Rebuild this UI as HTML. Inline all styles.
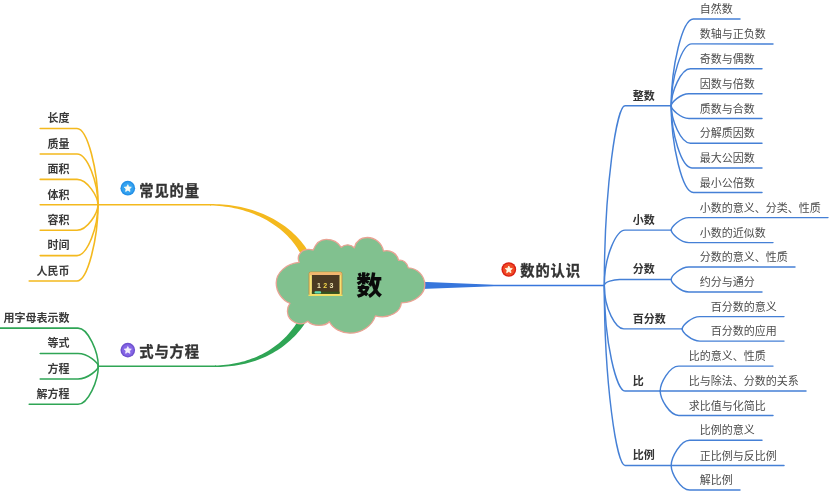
<!DOCTYPE html>
<html lang="zh-CN">
<head>
<meta charset="utf-8">
<title>数 思维导图</title>
<style>
html,body{margin:0;padding:0;background:#fff;}
body{width:834px;height:500px;overflow:hidden;}
svg{display:block;will-change:transform;}
svg text{font-family:"Liberation Sans","Noto Sans CJK SC",sans-serif;}
</style>
</head>
<body>
<svg width="834" height="500" viewBox="0 0 834 500">
<rect width="834" height="500" fill="#ffffff"/>
<path d="M210.00,205.55 L213.15,205.61 L216.28,205.76 L219.38,205.98 L222.45,206.28 L225.50,206.65 L228.51,207.09 L231.49,207.60 L234.44,208.18 L237.35,208.83 L240.22,209.54 L243.05,210.32 L245.85,211.17 L248.60,212.07 L251.31,213.04 L253.97,214.07 L256.59,215.16 L259.16,216.31 L261.68,217.52 L264.15,218.78 L266.57,220.10 L268.93,221.47 L271.24,222.90 L273.50,224.38 L275.70,225.91 L277.83,227.49 L279.91,229.12 L281.92,230.79 L283.88,232.52 L285.76,234.29 L287.59,236.10 L289.34,237.96 L291.03,239.86 L292.65,241.80 L294.20,243.78 L295.67,245.80 L297.08,247.86 L298.41,249.95 L299.68,252.06 L300.95,254.18 L302.15,256.33 L308.77,252.79 L307.44,250.42 L306.05,248.09 L304.51,245.86 L302.88,243.69 L301.17,241.57 L299.40,239.50 L297.57,237.49 L295.67,235.54 L293.71,233.64 L291.69,231.79 L289.61,230.00 L287.47,228.26 L285.28,226.58 L283.03,224.96 L280.73,223.40 L278.38,221.89 L275.98,220.44 L273.52,219.05 L271.03,217.71 L268.48,216.44 L265.89,215.22 L263.26,214.07 L260.59,212.97 L257.87,211.94 L255.12,210.97 L252.33,210.06 L249.50,209.21 L246.64,208.43 L243.74,207.70 L240.81,207.05 L237.85,206.45 L234.86,205.92 L231.84,205.46 L228.79,205.06 L225.72,204.73 L222.62,204.46 L219.50,204.26 L216.35,204.13 L213.19,204.06 L210.00,204.05 Z" fill="#f4b91e"/>
<path d="M98.0,204.8 L211,204.8" stroke="#f4b91e" stroke-width="1.45" fill="none"/>
<path d="M215.00,366.95 L217.80,366.94 L220.58,366.89 L223.36,366.77 L226.13,366.60 L228.89,366.37 L231.63,366.07 L234.36,365.72 L237.08,365.31 L239.78,364.83 L242.46,364.29 L245.13,363.69 L247.77,363.03 L250.39,362.31 L252.99,361.52 L255.57,360.68 L258.12,359.76 L260.64,358.79 L263.14,357.75 L265.61,356.65 L268.04,355.48 L270.45,354.25 L272.82,352.96 L275.15,351.60 L277.45,350.17 L279.72,348.68 L281.94,347.13 L284.12,345.51 L286.26,343.82 L288.35,342.07 L290.40,340.25 L292.41,338.36 L294.36,336.41 L296.26,334.39 L298.12,332.31 L299.91,330.15 L301.66,327.93 L303.34,325.65 L304.95,323.28 L306.43,320.81 L307.84,318.28 L301.50,314.86 L300.19,317.20 L298.83,319.49 L297.46,321.75 L296.06,323.97 L294.59,326.14 L293.07,328.25 L291.48,330.31 L289.84,332.31 L288.15,334.26 L286.40,336.15 L284.60,337.99 L282.74,339.77 L280.83,341.49 L278.88,343.16 L276.87,344.77 L274.82,346.32 L272.72,347.82 L270.58,349.26 L268.39,350.63 L266.16,351.95 L263.89,353.22 L261.59,354.42 L259.24,355.56 L256.86,356.64 L254.44,357.66 L251.99,358.62 L249.51,359.52 L246.99,360.36 L244.45,361.13 L241.88,361.85 L239.28,362.50 L236.66,363.09 L234.02,363.61 L231.35,364.07 L228.67,364.47 L225.97,364.80 L223.24,365.06 L220.51,365.26 L217.76,365.39 L215.00,365.45 Z" fill="#2fa555"/>
<path d="M98.3,366.2 L216,366.2" stroke="#2fa555" stroke-width="1.45" fill="none"/>
<path d="M421,281.7 L494,284.65 L604.3,284.65 L604.3,286.15 L494,286.15 L421,289.0 Z" fill="#3776dc"/>
<g fill="none" stroke="#4580d6" stroke-width="1.45" stroke-linecap="round">
<path d="M604.3,285.4 C604.3,186.6 616.7,105.8 625.0,105.8 L671.1999999999999,105.8"/>
<path d="M671.2,105.8 C671.2,66.7 682.3,19.0 693.4,19.0 L740.0,19.0"/>
<path d="M671.2,105.8 C671.2,77.9 681.6,43.9 691.9,43.9 L773.0,43.9"/>
<path d="M671.2,105.8 C671.2,92.1 680.8,68.8 690.4,68.8 L762.0,68.8"/>
<path d="M671.2,105.8 C671.2,102.8 680.1,93.7 688.9,93.7 L762.0,93.7"/>
<path d="M671.2,105.8 C671.2,109.0 680.1,118.4 689.0,118.4 L762.0,118.4"/>
<path d="M671.2,105.8 C671.2,119.7 680.8,143.2 690.4,143.2 L762.0,143.2"/>
<path d="M671.2,105.8 C671.2,133.7 681.6,167.9 691.9,167.9 L762.0,167.9"/>
<path d="M671.2,105.8 C671.2,144.8 682.3,192.5 693.4,192.5 L762.0,192.5"/>
<path d="M604.3,285.4 C604.3,255.0 616.7,230.1 625.0,230.1 L671.1999999999999,230.1"/>
<path d="M671.2,230.1 C671.2,227.0 680.1,217.6 688.9,217.6 L828.0,217.6"/>
<path d="M671.2,230.1 C671.2,233.2 680.1,242.6 688.9,242.6 L773.0,242.6"/>
<path d="M604.3,285.4 C604.3,282.1 613.5,279.45 619.6545,279.45 L671.1999999999999,279.45"/>
<path d="M671.2,279.4 C671.2,276.3 680.1,267.0 688.9,267.0 L795.0,267.0"/>
<path d="M671.2,279.4 C671.2,282.6 680.1,291.9 688.9,291.9 L762.0,291.9"/>
<path d="M604.3,285.4 C604.3,309.3 616.0,328.85 623.7795,328.85 L682.1999999999999,328.85"/>
<path d="M682.2,328.9 C682.2,325.8 691.1,316.6 699.9,316.6 L784.0,316.6"/>
<path d="M682.2,328.9 C682.2,331.9 691.1,341.1 699.9,341.1 L784.0,341.1"/>
<path d="M604.3,285.4 C604.3,343.5 616.7,391.0 625.0,391.0 L660.1999999999999,391.0"/>
<path d="M660.2,391.0 C660.2,383.3 669.4,366.1 678.7,366.1 L773.0,366.1"/>
<path d="M660.2,391.0 L677.2,391.0 L806.0,391.0"/>
<path d="M660.2,391.0 C660.2,398.5 669.4,415.4 678.7,415.4 L773.0,415.4"/>
<path d="M604.3,285.4 C604.3,384.4 616.7,465.4 625.0,465.4 L671.1999999999999,465.4"/>
<path d="M671.2,465.4 C671.2,457.6 680.5,440.2 689.7,440.2 L762.0,440.2"/>
<path d="M671.2,465.4 L688.2,465.4 L784.0,465.4"/>
<path d="M671.2,465.4 C671.2,473.0 680.4,490.0 689.7,490.0 L740.0,490.0"/>
</g>
<g fill="none" stroke="#f4b91e" stroke-width="1.6" stroke-linecap="round">
<path d="M98.0,204.8 C98.0,170.5 87.5,128.5 77.0,128.5 L40.2,128.5"/>
<path d="M98.0,204.8 C98.0,182.5 87.5,154.0 77.0,154.0 L40.2,154.0"/>
<path d="M98.0,204.8 C98.0,196.9 87.5,179.4 77.0,179.4 L40.2,179.4"/>
<path d="M98.0,204.8 L77.0,204.8 L40.2,204.8"/>
<path d="M98.0,204.8 C98.0,212.8 87.5,230.3 77.0,230.3 L40.2,230.3"/>
<path d="M98.0,204.8 C98.0,227.1 87.5,255.6 77.0,255.6 L40.2,255.6"/>
<path d="M98.0,204.8 C98.0,239.1 87.5,281.0 77.0,281.0 L29.2,281.0"/>
</g>
<g fill="none" stroke="#2fa555" stroke-width="1.55" stroke-linecap="round">
<path d="M98.3,366.2 C98.3,351.9 88.2,328.1 78.0,328.1 L-3.8,328.1"/>
<path d="M98.3,366.2 C98.3,363.0 88.2,353.4 78.0,353.4 L40.2,353.4"/>
<path d="M98.3,366.2 C98.3,369.4 88.2,378.9 78.0,378.9 L40.2,378.9"/>
<path d="M98.3,366.2 C98.3,380.5 88.2,404.3 78.0,404.3 L29.2,404.3"/>
</g>
<path d="M290,303.4 C282,300 276.2,292 276.2,283 C276.2,273 286,263.5 299.2,262.4 C296,255 302,247.5 313.2,250 C316,243 321,239.3 326.2,239.3 C332,239.3 338,242 341.3,247.3 C345,243.8 351,244 354.3,247.8 C356,241 361,237.5 367.3,237.5 C375,237.5 382,243 383.5,251.1 C390,249.5 397,253 398.6,260.3 C403,259.5 407,262.5 408.3,267.8 C417,268 424.8,275.5 424.8,285 C424.8,294 415,303 401.3,302.9 C401,311 390,319.5 375.4,315.9 C372,326 362,333.2 350,333.2 C342,333.2 333,329 329.4,321.8 C325,326.5 313,327 307.8,321.3 C301,327 288,322 287.5,312 C287.3,309 288,306 290,303.4 Z" fill="#81c18f" stroke="#e9a394" stroke-width="1.3" stroke-linejoin="round"/>
<g>
<rect x="309.1" y="272.1" width="32.8" height="23.2" rx="1.6" fill="#cf9440" stroke="#c58a3c" stroke-width="0.9"/>
<rect x="309.5" y="272.5" width="32" height="22.4" rx="1.2" fill="#f6e074"/>
<rect x="309.5" y="272.5" width="32" height="2.7" rx="1.2" fill="#f1b570"/>
<rect x="311.9" y="275.0" width="27.6" height="18.8" fill="#4b3a22"/>
<rect x="311.9" y="291.7" width="27.6" height="2.1" fill="#33531f"/>
<rect x="308.4" y="294.5" width="34.1" height="1.6" rx="0.7" fill="#f3df62"/>
<rect x="314.5" y="291.3" width="6.6" height="2.2" rx="1" fill="#62dfb4"/>
<text x="317.1" y="288.2" font-size="7" font-weight="700" fill="#f1e6b4" letter-spacing="2.3" font-family="'Liberation Mono', monospace">1<tspan fill="#f6da4c">2</tspan>3</text>
</g>
<text x="356.2" y="295.2" font-size="26" font-weight="900" fill="#0a0a0a">数</text>
<circle cx="127.8" cy="188.2" r="7.35" fill="#2590e6"/><circle cx="127.8" cy="188.2" r="5.9" fill="#35a3f0"/><polygon points="127.80,184.70 128.86,186.94 131.32,187.26 129.51,188.96 129.97,191.39 127.80,190.20 125.63,191.39 126.09,188.96 124.28,187.26 126.74,186.94" fill="#fdfdf4" stroke="#fdfdf4" stroke-width="0.8" stroke-linejoin="round"/>
<circle cx="127.8" cy="350.1" r="7.35" fill="#6f52cf"/><circle cx="127.8" cy="350.1" r="5.9" fill="#8565e6"/><polygon points="127.80,346.60 128.86,348.84 131.32,349.16 129.51,350.86 129.97,353.29 127.80,352.10 125.63,353.29 126.09,350.86 124.28,349.16 126.74,348.84" fill="#f4f0fd" stroke="#f4f0fd" stroke-width="0.8" stroke-linejoin="round"/>
<circle cx="508.8" cy="269.5" r="7.35" fill="#d81e14"/><circle cx="508.8" cy="269.5" r="5.9" fill="#f04a24"/><polygon points="508.80,266.00 509.86,268.24 512.32,268.56 510.51,270.26 510.97,272.69 508.80,271.50 506.63,272.69 507.09,270.26 505.28,268.56 507.74,268.24" fill="#fffbe6" stroke="#fffbe6" stroke-width="0.8" stroke-linejoin="round"/>
<text x="632.8" y="99.7" font-size="11" font-weight="700" fill="#333" text-anchor="start">整数</text>
<text x="699.7" y="13.2" font-size="11" font-weight="400" fill="#4c4c4c" text-anchor="start">自然数</text>
<text x="699.7" y="38.1" font-size="11" font-weight="400" fill="#4c4c4c" text-anchor="start">数轴与正负数</text>
<text x="699.7" y="63.0" font-size="11" font-weight="400" fill="#4c4c4c" text-anchor="start">奇数与偶数</text>
<text x="699.7" y="87.9" font-size="11" font-weight="400" fill="#4c4c4c" text-anchor="start">因数与倍数</text>
<text x="699.7" y="112.6" font-size="11" font-weight="400" fill="#4c4c4c" text-anchor="start">质数与合数</text>
<text x="699.7" y="137.4" font-size="11" font-weight="400" fill="#4c4c4c" text-anchor="start">分解质因数</text>
<text x="699.7" y="162.1" font-size="11" font-weight="400" fill="#4c4c4c" text-anchor="start">最大公因数</text>
<text x="699.7" y="186.7" font-size="11" font-weight="400" fill="#4c4c4c" text-anchor="start">最小公倍数</text>
<text x="632.8" y="224.0" font-size="11" font-weight="700" fill="#333" text-anchor="start">小数</text>
<text x="699.7" y="211.8" font-size="11" font-weight="400" fill="#4c4c4c" text-anchor="start">小数的意义、分类、性质</text>
<text x="699.7" y="236.8" font-size="11" font-weight="400" fill="#4c4c4c" text-anchor="start">小数的近似数</text>
<text x="632.8" y="273.3" font-size="11" font-weight="700" fill="#333" text-anchor="start">分数</text>
<text x="699.7" y="261.2" font-size="11" font-weight="400" fill="#4c4c4c" text-anchor="start">分数的意义、性质</text>
<text x="699.7" y="286.1" font-size="11" font-weight="400" fill="#4c4c4c" text-anchor="start">约分与通分</text>
<text x="632.8" y="322.7" font-size="11" font-weight="700" fill="#333" text-anchor="start">百分数</text>
<text x="710.7" y="310.8" font-size="11" font-weight="400" fill="#4c4c4c" text-anchor="start">百分数的意义</text>
<text x="710.7" y="335.3" font-size="11" font-weight="400" fill="#4c4c4c" text-anchor="start">百分数的应用</text>
<text x="632.8" y="384.9" font-size="11" font-weight="700" fill="#333" text-anchor="start">比</text>
<text x="688.7" y="360.3" font-size="11" font-weight="400" fill="#4c4c4c" text-anchor="start">比的意义、性质</text>
<text x="688.7" y="385.2" font-size="11" font-weight="400" fill="#4c4c4c" text-anchor="start">比与除法、分数的关系</text>
<text x="688.7" y="409.6" font-size="11" font-weight="400" fill="#4c4c4c" text-anchor="start">求比值与化简比</text>
<text x="632.8" y="459.3" font-size="11" font-weight="700" fill="#333" text-anchor="start">比例</text>
<text x="699.7" y="434.4" font-size="11" font-weight="400" fill="#4c4c4c" text-anchor="start">比例的意义</text>
<text x="699.7" y="459.6" font-size="11" font-weight="400" fill="#4c4c4c" text-anchor="start">正比例与反比例</text>
<text x="699.7" y="484.2" font-size="11" font-weight="400" fill="#4c4c4c" text-anchor="start">解比例</text>
<text x="69.4" y="122.3" font-size="11" font-weight="700" fill="#3a3a3a" text-anchor="end">长度</text>
<text x="69.4" y="147.8" font-size="11" font-weight="700" fill="#3a3a3a" text-anchor="end">质量</text>
<text x="69.4" y="173.2" font-size="11" font-weight="700" fill="#3a3a3a" text-anchor="end">面积</text>
<text x="69.4" y="198.6" font-size="11" font-weight="700" fill="#3a3a3a" text-anchor="end">体积</text>
<text x="69.4" y="224.1" font-size="11" font-weight="700" fill="#3a3a3a" text-anchor="end">容积</text>
<text x="69.4" y="249.4" font-size="11" font-weight="700" fill="#3a3a3a" text-anchor="end">时间</text>
<text x="69.4" y="274.8" font-size="11" font-weight="700" fill="#3a3a3a" text-anchor="end">人民币</text>
<text x="69.4" y="321.9" font-size="11" font-weight="700" fill="#3a3a3a" text-anchor="end">用字母表示数</text>
<text x="69.4" y="347.2" font-size="11" font-weight="700" fill="#3a3a3a" text-anchor="end">等式</text>
<text x="69.4" y="372.7" font-size="11" font-weight="700" fill="#3a3a3a" text-anchor="end">方程</text>
<text x="69.4" y="398.1" font-size="11" font-weight="700" fill="#3a3a3a" text-anchor="end">解方程</text>
<text x="139.3" y="195.5" font-size="14.3" font-weight="700" fill="#333" text-anchor="start" letter-spacing="0.85" stroke="#333" stroke-width="0.3">常见的量</text>
<text x="139.3" y="356.7" font-size="14.3" font-weight="700" fill="#333" text-anchor="start" letter-spacing="0.85" stroke="#333" stroke-width="0.3">式与方程</text>
<text x="520.3" y="275.9" font-size="14.3" font-weight="700" fill="#333" text-anchor="start" letter-spacing="0.85" stroke="#333" stroke-width="0.3">数的认识</text>
</svg>
</body>
</html>
